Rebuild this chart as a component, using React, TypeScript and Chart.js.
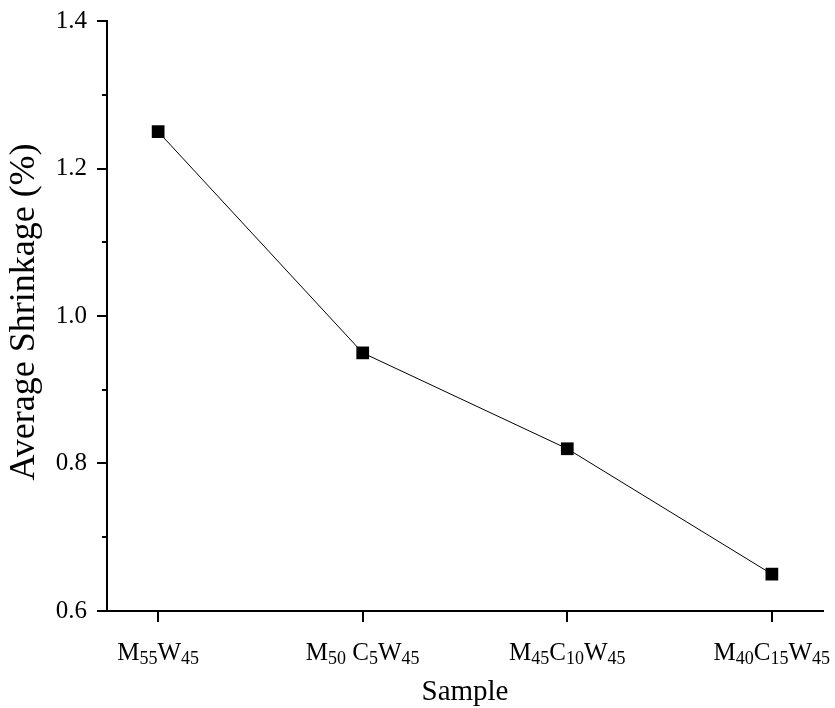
import React, { useEffect, useRef } from "react";
import { Chart, registerables } from "chart.js";

Chart.register(...registerables);

const categories = ["M_{55}W_{45}", "M_{50} C_{5}W_{45}", "M_{45}C_{10}W_{45}", "M_{40}C_{15}W_{45}"];
const shrinkage = [1.25, 0.95, 0.82, 0.65];
const yTicks = [0.6, 0.8, 1.0, 1.2, 1.4];
const yMinorTicks = [0.7, 0.9, 1.1, 1.3];
const xTitle = "Sample";
const yTitle = "Average Shrinkage (%)";

const FONT = "'Liberation Serif', 'Times New Roman', serif";

function parseLabel(s: string) {
  const parts: { t: string; sub: boolean }[] = [];
  const re = /_\{([^}]*)\}|([^_]+)/g;
  let m;
  while ((m = re.exec(s)) !== null) {
    if (m[1] !== undefined) parts.push({ t: m[1], sub: true });
    else parts.push({ t: m[2], sub: false });
  }
  return parts;
}

const labelPlugin = {
  id: "subLabels",
  afterDraw(chart: any) {
    const ctx = chart.ctx;
    const xs = chart.scales.x;
    const ys = chart.scales.y;
    ctx.save();
    // minor y ticks
    ctx.strokeStyle = "#000";
    ctx.lineWidth = 2;
    yMinorTicks.forEach((v) => {
      const y = Math.round(ys.getPixelForValue(v));
      ctx.beginPath();
      ctx.moveTo(chart.chartArea.left - 5, y);
      ctx.lineTo(chart.chartArea.left, y);
      ctx.stroke();
    });
    // y title
    ctx.fillStyle = "#000";
    ctx.save();
    ctx.translate(34, 312);
    ctx.rotate(-Math.PI / 2);
    ctx.font = `36px ${FONT}`;
    ctx.textAlign = "center";
    ctx.textBaseline = "alphabetic";
    ctx.fillText(yTitle, 0, 0);
    ctx.restore();
    // x title
    ctx.font = `29px ${FONT}`;
    ctx.textAlign = "center";
    ctx.textBaseline = "alphabetic";
    ctx.fillText(xTitle, (chart.chartArea.left + chart.chartArea.right) / 2, 700);
    // x labels with subscripts
    ctx.textAlign = "left";
    const mainFont = `25px ${FONT}`;
    const subFont = `18px ${FONT}`;
    const baseY = chart.chartArea.bottom + 49;
    categories.forEach((c, i) => {
      const parts = parseLabel(c);
      let w = 0;
      parts.forEach((p) => {
        ctx.font = p.sub ? subFont : mainFont;
        w += ctx.measureText(p.t).width;
      });
      let x = xs.getPixelForValue(i) - w / 2;
      parts.forEach((p) => {
        ctx.font = p.sub ? subFont : mainFont;
        ctx.fillText(p.t, x, p.sub ? baseY + 4 : baseY);
        x += ctx.measureText(p.t).width;
      });
    });
    ctx.restore();
  },
};

export default function App() {
  const ref = useRef<HTMLCanvasElement | null>(null);
  useEffect(() => {
    if (!ref.current) return;
    const chart = new Chart(ref.current, {
      type: "line",
      data: {
        datasets: [
          {
            data: shrinkage.map((v, i) => ({ x: i, y: v })),
            borderColor: "#000",
            borderWidth: 1,
            backgroundColor: "#000",
            pointStyle: "rect",
            pointRadius: 9,
            pointBorderWidth: 0,
            pointBackgroundColor: "#000",
            tension: 0,
            clip: false as any,
          },
        ],
      },
      options: {
        responsive: false,
        animation: false,
        layout: { padding: { left: 0, right: 12, top: 21, bottom: 0 } },
        plugins: { legend: { display: false }, tooltip: { enabled: false } },
        scales: {
          x: {
            type: "linear",
            min: -0.25,
            max: 3.25,
            afterBuildTicks: (s: any) => {
              s.ticks = categories.map((_, i) => ({ value: i }));
            },
            afterFit: (s: any) => {
              s.height = 97;
            },
            ticks: { display: false },
            grid: {
              drawOnChartArea: false,
              drawTicks: true,
              tickLength: 11,
              color: "#000",
              lineWidth: 2,
            },
            border: { display: true, color: "#000", width: 2 },
            title: { display: false },
          },
          y: {
            type: "linear",
            min: 0.6,
            max: 1.4,
            afterBuildTicks: (s: any) => {
              s.ticks = yTicks.map((v) => ({ value: v }));
            },
            afterFit: (s: any) => {
              s.width = 107;
            },
            ticks: {
              color: "#000",
              font: { family: FONT, size: 25, lineHeight: 0.8 },
              padding: 10,
              callback: (v: any) => Number(v).toFixed(1),
            },
            grid: {
              drawOnChartArea: false,
              drawTicks: true,
              tickLength: 10,
              color: "#000",
              lineWidth: 2,
            },
            border: { display: true, color: "#000", width: 2 },
            title: { display: false },
          },
        },
      },
      plugins: [labelPlugin],
    });
    return () => chart.destroy();
  }, []);
  return (
    <div style={{ position: "absolute", left: 0, top: 0, width: 835, height: 708, background: "#fff" }}>
      <canvas ref={ref} width={835} height={708} />
    </div>
  );
}
